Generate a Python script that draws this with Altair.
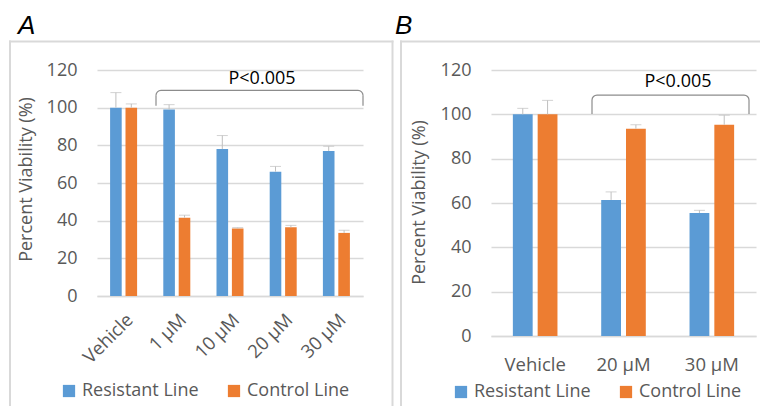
import altair as alt
import pandas as pd
import math

# ---------------- data ----------------
series_names = ["Resistant Line", "Control Line"]
series_colors = ["#5b9bd5", "#ed7d31"]

a_categories = ["Vehicle", "1 µM", "10 µM", "20 µM", "30 µM"]
a_resistant = [100, 99, 78, 66, 77]
a_resistant_err = [8, 2.6, 7.2, 2.8, 2.5]
a_control = [100, 41.6, 35.8, 36.5, 33.5]
a_control_err = [2, 1.3, 0.5, 1.0, 1.4]

b_categories = ["Vehicle", "20 µM", "30 µM"]
b_resistant = [100, 61.4, 55.5]
b_resistant_err = [2.7, 3.6, 1.2]
b_control = [100, 93.5, 95.3]
b_control_err = [6.3, 1.8, 4.3]

y_ticks = [0, 20, 40, 60, 80, 100, 120]
p_label = "P<0.005"

# significance bracket: top and bottom level in percent units
a_bracket_levels = [109.2, 101.0]
b_bracket_levels = [108.7, 100.2]
a_p_level = 115.2
b_p_level = 114.6

FONT = "Open Sans"
GRAY = "#595959"
GRID = "#d9d9d9"
BRACKET = "#8c8c8c"
ERR = "#bfbfbf"


def long_table(cats, res, res_err, con, con_err):
    rows = []
    for i, c in enumerate(cats):
        rows.append({"cat": c, "series": series_names[0], "value": res[i], "upper": res[i] + res_err[i]})
        rows.append({"cat": c, "series": series_names[1], "value": con[i], "upper": con[i] + con_err[i]})
    return pd.DataFrame(rows)


def panel(cats, res, res_err, con, con_err, width, height, rotate, bar_w, bar_off,
          levels, p_level, bracket_px, p_x, letter, letter_x, border, legend_xy,
          title_xy, label_pad):
    df = long_table(cats, res, res_err, con, con_err)
    yscale = alt.Scale(domain=[0, 120], nice=False)
    xscale = alt.Scale(paddingInner=0.49, paddingOuter=0.245)
    xaxis = alt.Axis(
        title=None, labelAngle=-45 if rotate else 0, labelFont=FONT, labelFontSize=18.5,
        labelColor=GRAY, ticks=False, domain=True, domainColor=GRID, domainWidth=1.5,
        labelPadding=label_pad,
    )
    yaxis = alt.Axis(
        title="Percent Viability (%)", values=y_ticks, grid=True, gridColor=GRID, gridWidth=1.5,
        domain=False, ticks=False, labelPadding=20, labelFont=FONT, labelFontSize=18,
        labelColor=GRAY, titleFont=FONT, titleFontSize=18, titleColor=GRAY,
        titleFontWeight="normal", titleAngle=-90, titleAlign="center", titleBaseline="middle",
        titleX=title_xy[0], titleY=title_xy[1],
    )
    color = alt.Color(
        "series:N", sort=series_names,
        scale=alt.Scale(domain=series_names, range=series_colors),
        legend=alt.Legend(
            title=None, orient="none", legendX=legend_xy[0], legendY=legend_xy[1],
            direction="horizontal", symbolType="square", symbolSize=150,
            symbolStrokeWidth=0, labelFont=FONT, labelFontSize=18, labelColor=GRAY,
            labelOffset=4, columnPadding=26, padding=0,
        ),
    )
    x = alt.X("cat:N", sort=cats, scale=xscale, axis=xaxis)
    y = alt.Y("value:Q", scale=yscale, axis=yaxis)

    layers = []
    for name, off in zip(series_names, (-bar_off, bar_off)):
        sub = alt.Chart(df).transform_filter(alt.datum.series == name)
        layers.append(sub.mark_bar(width=bar_w, xOffset=off).encode(x=x, y=y, color=color))
        layers.append(sub.mark_rule(color=ERR, strokeWidth=1, xOffset=off).encode(
            x=x, y=y, y2="upper:Q"))
        layers.append(sub.mark_tick(color=ERR, thickness=1, size=11, orient="horizontal",
                                    xOffset=off).encode(
            x=x, y=alt.Y("upper:Q", scale=yscale, axis=yaxis)))

    one = alt.Chart(pd.DataFrame({"d": [0]}))
    top, bot = levels
    x0, x1 = bracket_px
    r = 5
    ann = []
    # bracket: top rule, two legs and two rounded corners
    ann.append(one.mark_rule(color=BRACKET, strokeWidth=1.2).encode(
        x=alt.value(x0 + r), x2=alt.value(x1 - r), y=alt.datum(top, scale=yscale, axis=yaxis)))
    for xx in (x0, x1):
        ann.append(one.mark_rule(color=BRACKET, strokeWidth=1.2, yOffset=r).encode(
            x=alt.value(xx), y=alt.datum(top, scale=yscale, axis=yaxis), y2=alt.datum(bot)))
    ann.append(one.mark_arc(color=BRACKET, radius=r + 0.6, radius2=r - 0.6,
                            theta=1.5 * math.pi, theta2=2 * math.pi, yOffset=r).encode(
        x=alt.value(x0 + r), y=alt.datum(top, scale=yscale, axis=yaxis)))
    ann.append(one.mark_arc(color=BRACKET, radius=r + 0.6, radius2=r - 0.6,
                            theta=0, theta2=0.5 * math.pi, yOffset=r).encode(
        x=alt.value(x1 - r), y=alt.datum(top, scale=yscale, axis=yaxis)))
    ann.append(one.mark_text(
        text=p_label, font=FONT, fontSize=18, color="#000000", baseline="middle", align="center"
    ).encode(x=alt.value(p_x), y=alt.datum(p_level, scale=yscale, axis=yaxis)))

    bl, bt, br, bb = border
    ann.append(one.mark_rule(color=GRID, strokeWidth=2).encode(
        x=alt.value(bl), y=alt.value(bt - 1), y2=alt.value(bb)))
    ann.append(one.mark_rule(color=GRID, strokeWidth=2).encode(
        x=alt.value(bl - 1), x2=alt.value(br + 1), y=alt.value(bt)))
    if rotate:
        ann.append(one.mark_rule(color=GRID, strokeWidth=2).encode(
            x=alt.value(br), y=alt.value(bt - 1), y2=alt.value(bb)))
        # white anchor at canvas origin
        ann.append(one.mark_rule(color="#ffffff", strokeWidth=1).encode(
            x=alt.value(bl - 1), x2=alt.value(bl + 3), y=alt.value(-61)))
    ann.append(one.mark_text(
        text=letter, font="Liberation Sans", fontSize=26, fontStyle="italic",
        color="#000000", align="left", baseline="alphabetic"
    ).encode(x=alt.value(letter_x), y=alt.value(-36)))

    return alt.layer(*layers, *ann).properties(width=width, height=height)


panel_a = panel(
    a_categories, a_resistant, a_resistant_err, a_control, a_control_err,
    266, 226, True, 11.6, 7.7, a_bracket_levels, a_p_level, (59, 266), 165,
    "A", -79, (-87, -28.5, 295.5, 336), (-37, 312), (-71, 109), 14,
)
panel_b = panel(
    b_categories, b_resistant, b_resistant_err, b_control, b_control_err,
    265, 266, False, 19.8, 12.4, b_bracket_levels, b_p_level, (101, 258), 187,
    "B", -96, (-90, -28.5, 268, 336), (-39, 313), (-72, 132), 19,
)

chart = alt.hconcat(panel_a, panel_b, spacing=128, bounds="flush").resolve_legend(
    color="independent"
).properties(padding=0).configure_view(stroke=None)

chart.save("out.html", embed_options={"renderer": "svg", "actions": False})
